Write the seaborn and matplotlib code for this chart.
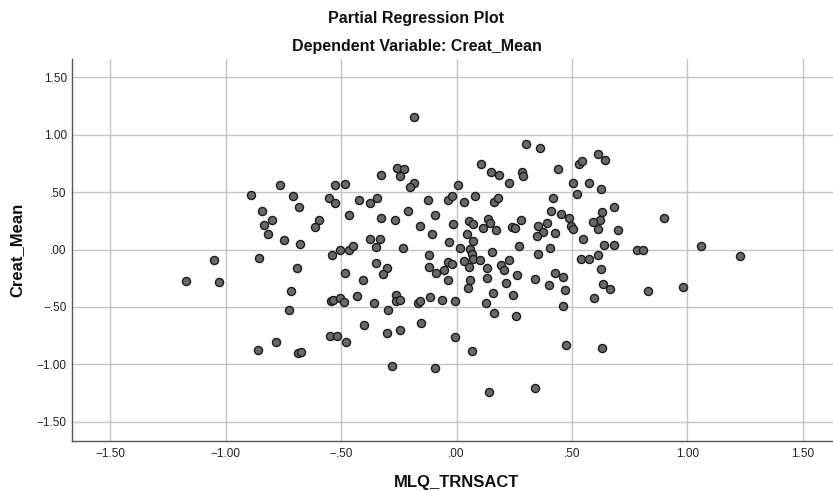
import matplotlib
matplotlib.use("Agg")
import matplotlib.pyplot as plt
import matplotlib.ticker as mticker
import seaborn as sns
import pandas as pd

# partial regression residuals
mlq_trnsact = [
    -0.890, -0.767, -0.710, -0.681, -0.844, -0.836, -0.799, -0.816, -0.748, -0.677,
    -0.597, -0.613, -0.554, -0.525, -0.483, -0.525, -0.464, -0.507, -0.466, -0.450,
    -0.421, -0.377, -0.344, -0.326, -0.258, -0.229, -0.243, -0.186, -0.200, -0.183,
    -0.327, -0.266, -0.212, -0.157, -0.108, -0.125, -0.092, -0.036, -0.033, -0.373,
    -0.330, -0.348, -0.232, 0.301, 0.361, 0.107, 0.151, 0.184, 0.282, 0.286,
    0.226, 0.441, 0.532, 0.545, 0.611, 0.644, 0.504, 0.574, 0.524, 0.628,
    0.006, -0.019, 0.031, 0.081, 0.164, 0.181, 0.416, 0.410, 0.454, 0.488,
    0.631, 0.683, 0.623, 0.592, 0.611, 0.700, -0.015, 0.052, 0.071, 0.136,
    0.146, 0.113, 0.171, 0.242, 0.252, 0.279, 0.355, 0.390, 0.373, 0.347,
    0.428, 0.496, 0.506, 0.550, 0.045, 0.071, 0.015, 0.060, 0.154, 0.272,
    0.406, 0.639, 0.684, 0.780, 0.806, 0.897, 1.058, -1.050, -1.171, -1.030,
    -0.856, -0.861, -0.692, -0.718, -0.728, -0.781, -0.685, -0.673, -0.539, -0.483,
    -0.406, -0.543, -0.536, -0.507, -0.489, -0.432, -0.356, -0.298, -0.350, -0.301,
    -0.320, -0.262, -0.261, -0.245, -0.399, -0.301, -0.243, -0.548, -0.517, -0.477,
    -0.279, -0.095, -0.155, -0.165, -0.157, -0.113, -0.064, -0.121, -0.121, -0.089,
    -0.053, -0.036, -0.039, 0.065, 0.070, 0.034, 0.052, 0.103, -0.019, -0.006,
    0.060, 0.051, 0.130, 0.130, 0.193, 0.207, 0.229, 0.214, 0.156, 0.128,
    0.161, 0.243, 0.256, 0.263, 0.353, 0.341, 0.399, 0.426, 0.461, 0.468,
    0.461, 0.539, 0.575, 0.615, 0.624, 0.635, 0.667, 0.595, -0.005, 0.065,
    0.475, 0.632, 0.141, 0.338, 1.229, 0.829, 0.983,
]
creat_mean = [
    0.472, 0.559, 0.463, 0.370, 0.333, 0.211, 0.260, 0.132, 0.084, 0.045,
    0.260, 0.196, 0.449, 0.562, 0.568, 0.402, 0.301, -0.003, -0.003, 0.034,
    0.431, 0.402, 0.449, 0.652, 0.710, 0.701, 0.640, 0.577, 0.542, 1.152,
    0.278, 0.260, 0.339, 0.202, 0.139, 0.429, 0.304, 0.433, 0.063, 0.089,
    0.089, 0.025, 0.010, 0.919, 0.882, 0.742, 0.672, 0.652, 0.672, 0.640,
    0.579, 0.701, 0.745, 0.774, 0.835, 0.777, 0.577, 0.579, 0.487, 0.524,
    0.559, 0.470, 0.411, 0.470, 0.411, 0.446, 0.446, 0.333, 0.309, 0.272,
    0.330, 0.370, 0.254, 0.240, 0.182, 0.173, 0.226, 0.248, 0.222, 0.266,
    0.234, 0.191, 0.170, 0.199, 0.187, 0.254, 0.202, 0.234, 0.150, 0.115,
    0.144, 0.202, 0.176, 0.095, 0.139, 0.071, 0.015, 0.002, -0.024, 0.028,
    0.010, 0.037, 0.037, -0.003, -0.003, 0.272, 0.028, -0.094, -0.271, -0.283,
    -0.078, -0.878, -0.164, -0.358, -0.530, -0.806, -0.902, -0.895, -0.048, -0.201,
    -0.266, -0.445, -0.436, -0.419, -0.460, -0.405, -0.469, -0.530, -0.118, -0.158,
    -0.210, -0.399, -0.451, -0.443, -0.658, -0.724, -0.704, -0.753, -0.753, -0.808,
    -1.017, -1.037, -0.645, -0.466, -0.451, -0.414, -0.443, -0.048, -0.152, -0.205,
    -0.181, -0.109, -0.262, -0.042, -0.079, -0.100, -0.152, -0.088, -0.129, -0.445,
    -0.262, -0.335, -0.161, -0.245, -0.138, -0.181, -0.094, -0.292, -0.379, -0.463,
    -0.550, -0.393, -0.582, -0.225, -0.042, -0.260, -0.312, -0.201, -0.240, -0.349,
    -0.489, -0.079, -0.079, -0.048, -0.170, -0.303, -0.347, -0.419, -0.762, -0.889,
    -0.837, -0.858, -1.241, -1.206, -0.057, -0.361, -0.323,
]
tick_values = [-1.5, -1.0, -0.5, 0.0, 0.5, 1.0, 1.5]

df = pd.DataFrame({"MLQ_TRNSACT": mlq_trnsact, "Creat_Mean": creat_mean})

sns.set_theme(style="white")
plt.rcParams["font.family"] = ["Liberation Sans", "DejaVu Sans"]
plt.rcParams["axes.unicode_minus"] = True

fig = plt.figure(figsize=(8.33, 4.91), dpi=100)
# axes runs a bit past the right edge, like the cropped SPSS output
ax = fig.add_axes([0.0868, 0.1025, 0.9225, 0.7766])

sns.scatterplot(data=df, x="MLQ_TRNSACT", y="Creat_Mean", ax=ax,
                s=34, color="#686868", edgecolor="#1c1c1c", linewidth=1.0,
                zorder=3)

def spss_fmt(v, pos):
    s = f"{abs(v):.2f}"
    if s.startswith("0"):
        s = s[1:]
    return ("\u2212" + s) if v < -1e-9 else s

ax.set_xlim(-1.665, 1.665)
ax.set_ylim(-1.667, 1.658)
ax.set_xticks(tick_values)
ax.set_yticks(tick_values)
ax.xaxis.set_major_formatter(mticker.FuncFormatter(spss_fmt))
ax.yaxis.set_major_formatter(mticker.FuncFormatter(spss_fmt))
ax.tick_params(axis="both", length=0, labelsize=8.5, colors="#222222")
ax.tick_params(axis="x", pad=5)
ax.tick_params(axis="y", pad=4)

ax.grid(True, color="#c4c4c4", linewidth=1.0, zorder=0)
ax.set_axisbelow(True)
for side in ["top", "right"]:
    ax.spines[side].set_visible(False)
for side in ["left", "bottom"]:
    ax.spines[side].set_color("#555555")
    ax.spines[side].set_linewidth(1.0)

ax.set_xlabel("MLQ_TRNSACT", fontsize=12, fontweight="bold", color="#111111", labelpad=11)
ax.set_ylabel("Creat_Mean", fontsize=12, fontweight="bold", color="#111111", labelpad=9)

fig.text(0.5, 1 - 22.5 / 491, "Partial Regression Plot", ha="center", va="baseline",
         fontsize=11.5, fontweight="bold", color="#111111")
fig.text(0.5, 1 - 50.5 / 491, "Dependent Variable: Creat_Mean", ha="center", va="baseline",
         fontsize=11.5, fontweight="bold", color="#111111")

fig.savefig("out.png", dpi=100)
